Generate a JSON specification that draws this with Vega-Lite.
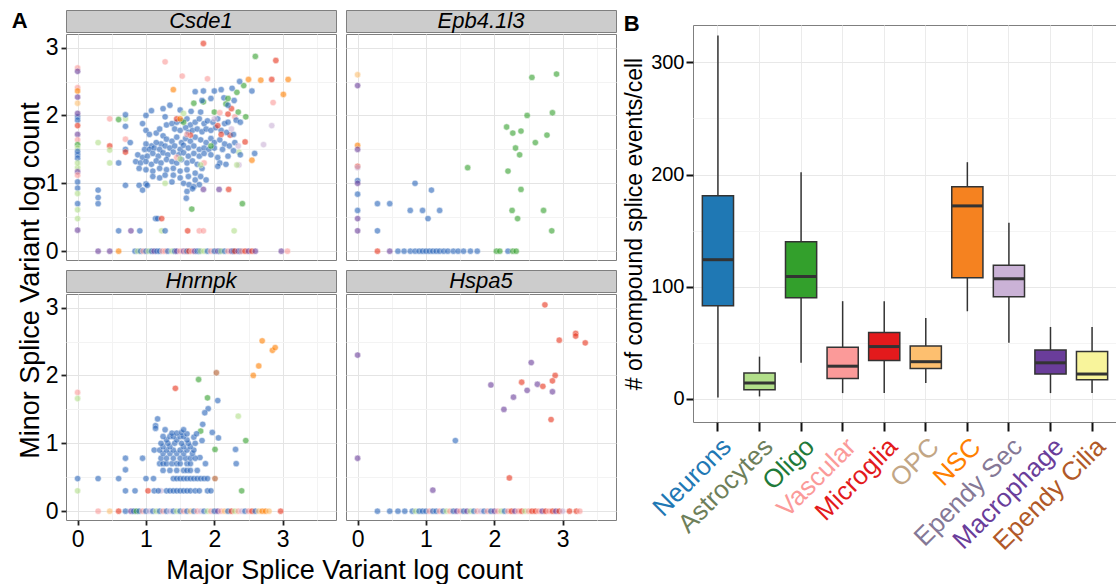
{
  "$schema": "https://vega.github.io/schema/vega-lite/v6.json",
  "padding": {"left": 11, "top": 9, "right": 0, "bottom": 0},
  "title": {"text": "A", "anchor": "start", "frame": "bounds", "orient": "top", "fontSize": 22, "fontWeight": "bold", "baseline": "top", "offset": -23, "dx": -5},
  "config": {
    "font": "Liberation Sans",
    "view": {"stroke": "#7f7f7f", "strokeWidth": 1},
    "axis": {"grid": true, "gridColor": "#ebebeb", "domain": false, "tickColor": "#222222", "tickWidth": 1.8, "labelFont": "Liberation Sans", "titleFont": "Liberation Sans", "titleFontWeight": "normal", "titleColor": "#000000"},
    "title": {"font": "Liberation Sans", "fontWeight": "normal", "color": "#000000"}
  },
  "datasets": {
    "csde1": [
      {"x":0,"y":2.70,"c":"V"},{"x":0,"y":2.65,"c":"X"},{"x":0,"y":2.41,"c":"V"},{"x":0,"y":2.36,"c":"S"},{"x":0,"y":2.27,"c":"X"},{"x":0,"y":2.18,"c":"P"},{"x":0,"y":1.98,"c":"N"},{"x":0,"y":1.93,"c":"N"},{"x":0,"y":1.85,"c":"M"},{"x":0,"y":1.72,"c":"X"},{"x":0,"y":1.64,"c":"V"},{"x":0,"y":1.57,"c":"O"},{"x":0,"y":1.52,"c":"A"},{"x":0,"y":1.42,"c":"N"},{"x":0,"y":1.37,"c":"N"},{"x":0,"y":1.23,"c":"A"},{"x":0,"y":1.17,"c":"X"},{"x":0,"y":1.12,"c":"V"},{"x":0,"y":1.02,"c":"N"},{"x":0,"y":0.93,"c":"N"},{"x":0,"y":0.85,"c":"A"},{"x":0,"y":0.70,"c":"N"},{"x":0,"y":0.61,"c":"A"},{"x":0,"y":0.48,"c":"A"},{"x":0,"y":0.31,"c":"X"},{"x":0,"y":1.30,"c":"A"},{"x":0,"y":1.47,"c":"N"},{"x":0,"y":2.03,"c":"X"},
      {"x":0.3,"y":0,"c":"X"},{"x":0.47,"y":0,"c":"X"},{"x":0.6,"y":0,"c":"S"},{"x":0.84,"y":0,"c":"N"},{"x":0.88,"y":0,"c":"A"},{"x":0.92,"y":0,"c":"N"},{"x":0.96,"y":0,"c":"V"},{"x":1.0,"y":0,"c":"N"},{"x":1.04,"y":0,"c":"A"},{"x":1.08,"y":0,"c":"N"},{"x":1.12,"y":0,"c":"X"},{"x":1.16,"y":0,"c":"N"},{"x":1.2,"y":0,"c":"N"},{"x":1.24,"y":0,"c":"V"},{"x":1.28,"y":0,"c":"V"},{"x":1.32,"y":0,"c":"N"},{"x":1.38,"y":0,"c":"A"},{"x":1.42,"y":0,"c":"N"},{"x":1.45,"y":0,"c":"X"},{"x":1.5,"y":0,"c":"V"},{"x":1.55,"y":0,"c":"X"},{"x":1.58,"y":0,"c":"V"},{"x":1.6,"y":0,"c":"N"},{"x":1.63,"y":0,"c":"M"},{"x":1.67,"y":0,"c":"V"},{"x":1.71,"y":0,"c":"X"},{"x":1.75,"y":0,"c":"N"},{"x":1.78,"y":0,"c":"N"},{"x":1.8,"y":0,"c":"A"},{"x":1.85,"y":0,"c":"A"},{"x":1.9,"y":0,"c":"N"},{"x":1.95,"y":0,"c":"V"},{"x":2.0,"y":0,"c":"N"},{"x":2.05,"y":0,"c":"X"},{"x":2.08,"y":0,"c":"N"},{"x":2.1,"y":0,"c":"A"},{"x":2.15,"y":0,"c":"N"},{"x":2.2,"y":0,"c":"V"},{"x":2.25,"y":0,"c":"X"},{"x":2.28,"y":0,"c":"N"},{"x":2.3,"y":0,"c":"M"},{"x":2.35,"y":0,"c":"X"},{"x":2.38,"y":0,"c":"N"},{"x":2.4,"y":0,"c":"V"},{"x":2.45,"y":0,"c":"M"},{"x":2.5,"y":0,"c":"X"},{"x":2.55,"y":0,"c":"M"},{"x":2.6,"y":0,"c":"X"},{"x":2.98,"y":0,"c":"X"},{"x":3.07,"y":0,"c":"V"},
      {"x":0.6,"y":0.3,"c":"N"},{"x":0.78,"y":0.3,"c":"X"},{"x":0.91,"y":0.3,"c":"N"},{"x":1.14,"y":0.48,"c":"N"},{"x":1.17,"y":0.48,"c":"N"},{"x":1.23,"y":0.48,"c":"M"},{"x":1.23,"y":0.3,"c":"A"},{"x":1.28,"y":0.3,"c":"N"},{"x":1.61,"y":0.3,"c":"M"},{"x":1.78,"y":0.3,"c":"V"},{"x":1.84,"y":0.3,"c":"V"},{"x":2.29,"y":0.3,"c":"A"},{"x":0.3,"y":0.9,"c":"N"},{"x":0.3,"y":0.79,"c":"N"},{"x":0.3,"y":0.7,"c":"N"},{"x":0.7,"y":0.97,"c":"N"},{"x":0.9,"y":0.97,"c":"N"},{"x":0.95,"y":0.9,"c":"N"},{"x":1.0,"y":0.99,"c":"N"},{"x":1.59,"y":0.78,"c":"N"},{"x":1.67,"y":0.62,"c":"O"},{"x":1.84,"y":0.91,"c":"X"},{"x":2.07,"y":0.91,"c":"X"},{"x":2.21,"y":0.91,"c":"M"},{"x":2.41,"y":0.7,"c":"O"},{"x":1.28,"y":1.0,"c":"A"},
      {"x":1.84,"y":3.06,"c":"M"},{"x":2.6,"y":2.87,"c":"O"},{"x":2.9,"y":2.81,"c":"M"},{"x":1.28,"y":2.79,"c":"V"},{"x":1.53,"y":2.58,"c":"V"},{"x":1.9,"y":2.54,"c":"V"},{"x":2.5,"y":2.53,"c":"S"},{"x":2.68,"y":2.52,"c":"S"},{"x":2.84,"y":2.53,"c":"M"},{"x":3.08,"y":2.53,"c":"S"},{"x":3.01,"y":2.31,"c":"S"},{"x":2.86,"y":2.19,"c":"V"},{"x":2.84,"y":1.85,"c":"E"},{"x":2.72,"y":1.57,"c":"E"},{"x":2.55,"y":1.34,"c":"S"},{"x":2.59,"y":1.44,"c":"N"},{"x":1.4,"y":2.38,"c":"S"},{"x":0.47,"y":1.95,"c":"V"},{"x":0.6,"y":1.94,"c":"O"},{"x":0.7,"y":1.95,"c":"A"},{"x":0.7,"y":2.01,"c":"N"},{"x":0.7,"y":1.84,"c":"N"},{"x":0.3,"y":1.6,"c":"A"},{"x":0.47,"y":1.55,"c":"M"},{"x":0.47,"y":1.49,"c":"A"},{"x":0.47,"y":1.3,"c":"A"},{"x":0.6,"y":1.3,"c":"N"},{"x":0.7,"y":1.65,"c":"V"},{"x":0.7,"y":1.5,"c":"N"},{"x":0.7,"y":1.46,"c":"M"},{"x":0.77,"y":1.6,"c":"N"},{"x":2.45,"y":1.61,"c":"M"},{"x":2.36,"y":1.46,"c":"A"},{"x":2.36,"y":1.27,"c":"E"},{"x":2.33,"y":1.27,"c":"A"},{"x":2.23,"y":1.71,"c":"M"},{"x":2.43,"y":2.44,"c":"O"},{"x":2.33,"y":2.34,"c":"O"},{"x":2.17,"y":2.17,"c":"O"},{"x":2.25,"y":2.1,"c":"M"},{"x":2.3,"y":1.98,"c":"V"},{"x":2.46,"y":1.98,"c":"O"},{"x":1.84,"y":2.2,"c":"O"},{"x":1.7,"y":2.18,"c":"O"},{"x":2.37,"y":2.5,"c":"N"},{"x":2.55,"y":2.36,"c":"N"},{"x":2.29,"y":2.22,"c":"N"},
      {"x":1.72,"y":2.35,"c":"N"},{"x":1.84,"y":2.36,"c":"N"},{"x":2.0,"y":2.36,"c":"N"},{"x":2.1,"y":2.38,"c":"N"},{"x":2.26,"y":2.4,"c":"N"},{"x":1.82,"y":2.22,"c":"N"},{"x":1.95,"y":2.25,"c":"N"},{"x":2.14,"y":2.26,"c":"N"},{"x":1.25,"y":2.1,"c":"N"},{"x":1.35,"y":2.15,"c":"N"},{"x":1.5,"y":2.08,"c":"N"},{"x":1.66,"y":2.06,"c":"N"},{"x":1.8,"y":2.05,"c":"N"},{"x":2.2,"y":2.15,"c":"N"},{"x":1.0,"y":2.0,"c":"N"},{"x":1.08,"y":2.07,"c":"N"},
      {"x":1.28,"y":1.98,"c":"N"},{"x":1.3,"y":1.86,"c":"N"},{"x":1.38,"y":1.88,"c":"N"},{"x":1.45,"y":1.9,"c":"N"},{"x":1.52,"y":1.92,"c":"N"},{"x":1.6,"y":1.95,"c":"N"},{"x":1.65,"y":1.86,"c":"N"},{"x":1.72,"y":1.9,"c":"N"},{"x":1.78,"y":1.95,"c":"N"},{"x":1.85,"y":1.88,"c":"N"},{"x":1.9,"y":1.92,"c":"N"},{"x":1.98,"y":1.9,"c":"N"},{"x":2.05,"y":1.95,"c":"N"},{"x":2.15,"y":1.88,"c":"N"},{"x":2.2,"y":1.9,"c":"N"},{"x":2.32,"y":1.93,"c":"N"},{"x":2.38,"y":1.9,"c":"N"},{"x":1.42,"y":1.8,"c":"N"},{"x":1.5,"y":1.78,"c":"N"},{"x":1.58,"y":1.82,"c":"N"},{"x":1.62,"y":1.75,"c":"N"},{"x":1.68,"y":1.78,"c":"N"},{"x":1.75,"y":1.8,"c":"N"},{"x":1.82,"y":1.76,"c":"N"},{"x":1.88,"y":1.8,"c":"N"},{"x":1.95,"y":1.78,"c":"N"},{"x":2.02,"y":1.82,"c":"N"},{"x":2.1,"y":1.78,"c":"N"},{"x":2.18,"y":1.75,"c":"N"},{"x":2.28,"y":1.72,"c":"N"},{"x":1.0,"y":1.78,"c":"N"},{"x":1.05,"y":1.72,"c":"N"},{"x":1.15,"y":1.74,"c":"N"},{"x":1.2,"y":1.8,"c":"N"},{"x":0.95,"y":1.88,"c":"N"},{"x":1.25,"y":1.7,"c":"N"},
      {"x":1.3,"y":1.65,"c":"N"},{"x":1.38,"y":1.62,"c":"N"},{"x":1.45,"y":1.68,"c":"N"},{"x":1.52,"y":1.6,"c":"N"},{"x":1.58,"y":1.66,"c":"N"},{"x":1.65,"y":1.62,"c":"N"},{"x":1.72,"y":1.68,"c":"N"},{"x":1.8,"y":1.64,"c":"N"},{"x":1.88,"y":1.6,"c":"N"},{"x":1.95,"y":1.66,"c":"N"},{"x":2.0,"y":1.6,"c":"N"},{"x":2.08,"y":1.64,"c":"N"},{"x":2.15,"y":1.58,"c":"N"},{"x":2.22,"y":1.55,"c":"N"},{"x":2.3,"y":1.6,"c":"N"},{"x":1.22,"y":1.58,"c":"N"},{"x":1.15,"y":1.6,"c":"N"},{"x":1.08,"y":1.55,"c":"N"},{"x":1.0,"y":1.58,"c":"N"},{"x":0.98,"y":1.5,"c":"N"},{"x":1.05,"y":1.5,"c":"N"},{"x":1.12,"y":1.52,"c":"N"},{"x":1.2,"y":1.5,"c":"N"},{"x":1.28,"y":1.55,"c":"N"},{"x":1.35,"y":1.52,"c":"N"},{"x":1.42,"y":1.55,"c":"N"},{"x":1.5,"y":1.5,"c":"N"},{"x":1.55,"y":1.56,"c":"N"},{"x":1.62,"y":1.52,"c":"N"},{"x":1.7,"y":1.55,"c":"N"},{"x":1.78,"y":1.5,"c":"N"},{"x":1.85,"y":1.52,"c":"N"},{"x":1.92,"y":1.5,"c":"N"},{"x":2.0,"y":1.52,"c":"N"},{"x":2.12,"y":1.5,"c":"N"},{"x":2.28,"y":1.48,"c":"N"},{"x":2.38,"y":1.42,"c":"N"},
      {"x":0.88,"y":1.42,"c":"N"},{"x":0.95,"y":1.38,"c":"N"},{"x":1.02,"y":1.4,"c":"N"},{"x":1.1,"y":1.44,"c":"N"},{"x":1.18,"y":1.4,"c":"N"},{"x":1.25,"y":1.45,"c":"N"},{"x":1.32,"y":1.42,"c":"N"},{"x":1.4,"y":1.46,"c":"N"},{"x":1.48,"y":1.42,"c":"N"},{"x":1.55,"y":1.45,"c":"N"},{"x":1.62,"y":1.4,"c":"N"},{"x":1.7,"y":1.44,"c":"N"},{"x":1.78,"y":1.4,"c":"N"},{"x":1.85,"y":1.44,"c":"N"},{"x":1.95,"y":1.42,"c":"N"},{"x":2.05,"y":1.38,"c":"N"},{"x":2.2,"y":1.4,"c":"N"},{"x":0.85,"y":1.32,"c":"N"},{"x":0.92,"y":1.3,"c":"N"},{"x":1.0,"y":1.32,"c":"N"},{"x":1.08,"y":1.28,"c":"N"},{"x":1.15,"y":1.33,"c":"N"},{"x":1.22,"y":1.3,"c":"N"},{"x":1.3,"y":1.35,"c":"N"},{"x":1.38,"y":1.32,"c":"N"},{"x":1.45,"y":1.3,"c":"N"},{"x":1.52,"y":1.35,"c":"N"},{"x":1.6,"y":1.3,"c":"N"},{"x":1.68,"y":1.33,"c":"N"},{"x":1.75,"y":1.28,"c":"N"},{"x":2.08,"y":1.3,"c":"N"},{"x":2.17,"y":1.28,"c":"N"},{"x":0.9,"y":1.22,"c":"N"},{"x":1.0,"y":1.2,"c":"N"},{"x":1.1,"y":1.18,"c":"N"},{"x":1.2,"y":1.22,"c":"N"},{"x":1.3,"y":1.2,"c":"N"},{"x":1.4,"y":1.22,"c":"N"},{"x":1.5,"y":1.18,"c":"N"},{"x":1.6,"y":1.2,"c":"N"},{"x":1.72,"y":1.15,"c":"N"},{"x":1.82,"y":1.22,"c":"N"},{"x":2.05,"y":1.25,"c":"N"},
      {"x":1.1,"y":1.1,"c":"N"},{"x":1.2,"y":1.08,"c":"N"},{"x":1.28,"y":1.12,"c":"N"},{"x":1.4,"y":1.12,"c":"N"},{"x":1.5,"y":1.08,"c":"N"},{"x":1.62,"y":1.1,"c":"N"},{"x":1.72,"y":1.05,"c":"N"},{"x":1.8,"y":1.1,"c":"N"},{"x":1.88,"y":1.05,"c":"N"},{"x":1.38,"y":1.02,"c":"N"},{"x":1.55,"y":1.0,"c":"N"},{"x":1.63,"y":0.98,"c":"N"},{"x":1.78,"y":0.98,"c":"N"},{"x":1.7,"y":0.95,"c":"N"},{"x":1.02,"y":0.97,"c":"N"},{"x":1.6,"y":0.88,"c":"N"},{"x":1.68,"y":0.92,"c":"N"},
      {"x":2.2,"y":2.25,"c":"O"},{"x":2.35,"y":2.05,"c":"O"},{"x":2.0,"y":2.05,"c":"O"},{"x":1.95,"y":1.55,"c":"O"},{"x":1.55,"y":1.9,"c":"O"},{"x":1.45,"y":1.95,"c":"M"},{"x":2.1,"y":1.72,"c":"M"},{"x":2.2,"y":2.02,"c":"M"},{"x":2.05,"y":1.85,"c":"M"},{"x":1.65,"y":1.71,"c":"M"},{"x":2.08,"y":2.04,"c":"V"},{"x":1.6,"y":1.72,"c":"V"},{"x":1.85,"y":1.3,"c":"V"},{"x":1.45,"y":1.38,"c":"V"},{"x":2.0,"y":1.95,"c":"E"},{"x":2.35,"y":1.55,"c":"E"},{"x":2.25,"y":1.8,"c":"E"},{"x":1.8,"y":1.27,"c":"A"},{"x":1.55,"y":2.03,"c":"A"},{"x":1.5,"y":1.36,"c":"A"},{"x":1.5,"y":1.95,"c":"S"}
    ],
    "epb": [
      {"x":0,"y":2.6,"c":"P"},{"x":0,"y":2.44,"c":"X"},{"x":0,"y":1.56,"c":"S"},{"x":0,"y":1.5,"c":"X"},{"x":0,"y":1.25,"c":"M"},{"x":0,"y":1.23,"c":"E"},{"x":0,"y":1.04,"c":"N"},{"x":0,"y":1.0,"c":"X"},{"x":0,"y":0.84,"c":"N"},{"x":0,"y":0.6,"c":"N"},{"x":0,"y":0.48,"c":"X"},{"x":0,"y":0.3,"c":"X"},
      {"x":0.29,"y":0.7,"c":"N"},{"x":0.47,"y":0.7,"c":"N"},{"x":0.29,"y":0.3,"c":"N"},{"x":0.84,"y":1.0,"c":"N"},{"x":1.08,"y":0.9,"c":"N"},{"x":0.77,"y":0.6,"c":"N"},{"x":0.95,"y":0.6,"c":"N"},{"x":1.2,"y":0.6,"c":"N"},{"x":1.03,"y":0.48,"c":"N"},
      {"x":1.61,"y":1.23,"c":"O"},{"x":2.55,"y":2.56,"c":"O"},{"x":2.91,"y":2.61,"c":"O"},{"x":2.48,"y":2.0,"c":"O"},{"x":2.85,"y":2.04,"c":"O"},{"x":2.18,"y":1.83,"c":"O"},{"x":2.27,"y":1.74,"c":"O"},{"x":2.39,"y":1.77,"c":"O"},{"x":2.6,"y":1.6,"c":"O"},{"x":2.77,"y":1.71,"c":"O"},{"x":2.31,"y":1.52,"c":"O"},{"x":2.37,"y":1.42,"c":"O"},{"x":2.2,"y":1.18,"c":"O"},{"x":2.39,"y":0.91,"c":"O"},{"x":2.26,"y":0.6,"c":"O"},{"x":2.72,"y":0.6,"c":"O"},{"x":2.34,"y":0.48,"c":"O"},{"x":2.84,"y":0.3,"c":"O"},
      {"x":0.29,"y":0,"c":"M"},{"x":0.47,"y":0,"c":"X"},{"x":0.59,"y":0,"c":"N"},{"x":0.68,"y":0,"c":"N"},{"x":0.77,"y":0,"c":"N"},{"x":0.84,"y":0,"c":"N"},{"x":0.9,"y":0,"c":"N"},{"x":0.95,"y":0,"c":"N"},{"x":1.0,"y":0,"c":"N"},{"x":1.05,"y":0,"c":"N"},{"x":1.1,"y":0,"c":"N"},{"x":1.15,"y":0,"c":"N"},{"x":1.2,"y":0,"c":"N"},{"x":1.26,"y":0,"c":"N"},{"x":1.32,"y":0,"c":"N"},{"x":1.4,"y":0,"c":"N"},{"x":1.47,"y":0,"c":"N"},{"x":1.55,"y":0,"c":"N"},{"x":1.65,"y":0,"c":"N"},{"x":1.75,"y":0,"c":"N"},{"x":2.03,"y":0,"c":"O"},{"x":2.08,"y":0,"c":"O"},{"x":2.2,"y":0,"c":"N"},{"x":2.27,"y":0,"c":"O"},{"x":2.32,"y":0,"c":"O"}
    ],
    "hnrnpk": [
      {"x":0,"y":1.75,"c":"V"},{"x":0,"y":1.66,"c":"A"},{"x":0,"y":0.48,"c":"N"},{"x":0,"y":0.3,"c":"A"},
      {"x":2.7,"y":2.51,"c":"S"},{"x":2.85,"y":2.37,"c":"S"},{"x":2.89,"y":2.41,"c":"S"},{"x":2.65,"y":2.14,"c":"S"},{"x":2.57,"y":2.0,"c":"S"},{"x":2.03,"y":2.04,"c":"C"},{"x":1.77,"y":1.94,"c":"O"},{"x":1.9,"y":1.67,"c":"O"},{"x":1.8,"y":1.18,"c":"O"},{"x":2.01,"y":0.91,"c":"O"},{"x":2.46,"y":1.04,"c":"O"},{"x":2.4,"y":0.3,"c":"O"},{"x":1.43,"y":1.81,"c":"M"},{"x":2.35,"y":1.4,"c":"A"},{"x":2.05,"y":1.63,"c":"N"},{"x":1.91,"y":1.51,"c":"N"},{"x":1.86,"y":1.45,"c":"N"},{"x":1.83,"y":1.28,"c":"N"},{"x":1.7,"y":1.09,"c":"N"},{"x":1.74,"y":1.14,"c":"N"},{"x":1.97,"y":1.16,"c":"N"},{"x":2.06,"y":1.08,"c":"N"},{"x":2.31,"y":0.91,"c":"N"},{"x":2.32,"y":0.7,"c":"N"},{"x":1.82,"y":1.04,"c":"N"},{"x":1.79,"y":0.79,"c":"N"},{"x":1.87,"y":0.7,"c":"N"},{"x":1.17,"y":1.36,"c":"N"},{"x":1.14,"y":1.26,"c":"N"},{"x":1.14,"y":1.22,"c":"N"},{"x":0.7,"y":0.78,"c":"N"},{"x":0.7,"y":0.61,"c":"N"},{"x":0.95,"y":0.78,"c":"N"},{"x":0.3,"y":0.48,"c":"N"},{"x":0.6,"y":0.48,"c":"N"},{"x":1.0,"y":0.48,"c":"N"},{"x":1.11,"y":0.48,"c":"N"},{"x":0.7,"y":0.3,"c":"N"},{"x":0.84,"y":0.3,"c":"N"},{"x":2.01,"y":0.48,"c":"C"},{"x":1.03,"y":0.3,"c":"M"},{"x":1.22,"y":0.3,"c":"E"},
      {"x":1.4,"y":0.48,"c":"N"},{"x":1.45,"y":0.48,"c":"N"},{"x":1.5,"y":0.48,"c":"N"},{"x":1.55,"y":0.48,"c":"N"},{"x":1.6,"y":0.48,"c":"N"},{"x":1.65,"y":0.48,"c":"N"},{"x":1.7,"y":0.48,"c":"N"},{"x":1.75,"y":0.48,"c":"N"},{"x":1.8,"y":0.48,"c":"N"},{"x":1.85,"y":0.48,"c":"N"},{"x":1.9,"y":0.48,"c":"N"},
      {"x":1.12,"y":0.3,"c":"N"},{"x":1.18,"y":0.3,"c":"N"},{"x":1.3,"y":0.3,"c":"N"},{"x":1.35,"y":0.3,"c":"N"},{"x":1.4,"y":0.3,"c":"N"},{"x":1.45,"y":0.3,"c":"N"},{"x":1.5,"y":0.3,"c":"N"},{"x":1.55,"y":0.3,"c":"N"},{"x":1.6,"y":0.3,"c":"N"},{"x":1.65,"y":0.3,"c":"N"},{"x":1.72,"y":0.3,"c":"N"},{"x":1.78,"y":0.3,"c":"N"},{"x":1.9,"y":0.3,"c":"N"},{"x":1.95,"y":0.3,"c":"N"},
      {"x":1.25,"y":0.6,"c":"N"},{"x":1.35,"y":0.6,"c":"N"},{"x":1.45,"y":0.6,"c":"N"},{"x":1.55,"y":0.6,"c":"N"},{"x":1.6,"y":0.6,"c":"N"},{"x":1.65,"y":0.6,"c":"N"},{"x":1.75,"y":0.6,"c":"N"},
      {"x":1.2,"y":0.7,"c":"N"},{"x":1.25,"y":0.7,"c":"N"},{"x":1.3,"y":0.7,"c":"N"},{"x":1.38,"y":0.7,"c":"N"},{"x":1.45,"y":0.7,"c":"N"},{"x":1.5,"y":0.7,"c":"N"},{"x":1.6,"y":0.7,"c":"N"},{"x":1.65,"y":0.7,"c":"N"},
      {"x":1.22,"y":0.78,"c":"N"},{"x":1.3,"y":0.78,"c":"N"},{"x":1.4,"y":0.78,"c":"N"},{"x":1.5,"y":0.78,"c":"N"},{"x":1.58,"y":0.78,"c":"N"},{"x":1.65,"y":0.78,"c":"N"},{"x":1.72,"y":0.78,"c":"N"},
      {"x":1.25,"y":0.85,"c":"N"},{"x":1.35,"y":0.85,"c":"N"},{"x":1.45,"y":0.85,"c":"N"},{"x":1.55,"y":0.85,"c":"N"},{"x":1.68,"y":0.85,"c":"N"},
      {"x":1.12,"y":0.9,"c":"N"},{"x":1.2,"y":0.9,"c":"N"},{"x":1.3,"y":0.9,"c":"N"},{"x":1.4,"y":0.9,"c":"N"},{"x":1.5,"y":0.9,"c":"N"},{"x":1.6,"y":0.9,"c":"N"},{"x":1.7,"y":0.9,"c":"N"},
      {"x":1.25,"y":0.95,"c":"N"},{"x":1.35,"y":0.95,"c":"N"},{"x":1.55,"y":0.95,"c":"N"},{"x":1.65,"y":0.95,"c":"N"},
      {"x":1.22,"y":1.0,"c":"N"},{"x":1.32,"y":1.0,"c":"N"},{"x":1.42,"y":1.0,"c":"N"},{"x":1.52,"y":1.0,"c":"N"},{"x":1.62,"y":1.0,"c":"N"},{"x":1.72,"y":1.0,"c":"N"},
      {"x":1.3,"y":1.05,"c":"N"},{"x":1.45,"y":1.05,"c":"N"},{"x":1.6,"y":1.05,"c":"N"},
      {"x":1.25,"y":1.1,"c":"N"},{"x":1.35,"y":1.1,"c":"N"},{"x":1.4,"y":1.1,"c":"N"},{"x":1.5,"y":1.1,"c":"N"},{"x":1.55,"y":1.1,"c":"N"},
      {"x":1.38,"y":1.15,"c":"N"},{"x":1.45,"y":1.15,"c":"N"},{"x":1.52,"y":1.16,"c":"N"},{"x":1.6,"y":1.14,"c":"N"},{"x":1.28,"y":1.2,"c":"N"},{"x":1.55,"y":1.2,"c":"N"},
      {"x":0.3,"y":0,"c":"V"},{"x":0.47,"y":0,"c":"P"},{"x":0.6,"y":0,"c":"M"},{"x":0.7,"y":0,"c":"N"},{"x":0.78,"y":0,"c":"X"},{"x":0.82,"y":0,"c":"N"},{"x":0.86,"y":0,"c":"O"},{"x":0.9,"y":0,"c":"N"},{"x":0.95,"y":0,"c":"V"},{"x":1.0,"y":0,"c":"N"},{"x":1.05,"y":0,"c":"E"},{"x":1.1,"y":0,"c":"N"},{"x":1.15,"y":0,"c":"A"},{"x":1.2,"y":0,"c":"N"},{"x":1.25,"y":0,"c":"V"},{"x":1.3,"y":0,"c":"N"},{"x":1.35,"y":0,"c":"E"},{"x":1.4,"y":0,"c":"N"},{"x":1.45,"y":0,"c":"A"},{"x":1.5,"y":0,"c":"N"},{"x":1.55,"y":0,"c":"V"},{"x":1.6,"y":0,"c":"N"},{"x":1.65,"y":0,"c":"P"},{"x":1.7,"y":0,"c":"N"},{"x":1.75,"y":0,"c":"V"},{"x":1.8,"y":0,"c":"E"},{"x":1.85,"y":0,"c":"N"},{"x":1.9,"y":0,"c":"A"},{"x":1.95,"y":0,"c":"V"},{"x":2.0,"y":0,"c":"N"},{"x":2.05,"y":0,"c":"X"},{"x":2.1,"y":0,"c":"V"},{"x":2.15,"y":0,"c":"P"},{"x":2.2,"y":0,"c":"N"},{"x":2.25,"y":0,"c":"M"},{"x":2.3,"y":0,"c":"A"},{"x":2.35,"y":0,"c":"V"},{"x":2.4,"y":0,"c":"E"},{"x":2.45,"y":0,"c":"N"},{"x":2.5,"y":0,"c":"V"},{"x":2.55,"y":0,"c":"M"},{"x":2.6,"y":0,"c":"N"},{"x":2.65,"y":0,"c":"P"},{"x":2.7,"y":0,"c":"S"},{"x":2.75,"y":0,"c":"S"},{"x":2.8,"y":0,"c":"P"},{"x":2.97,"y":0,"c":"M"}
    ],
    "hspa5": [
      {"x":0,"y":2.3,"c":"X"},{"x":0,"y":0.78,"c":"X"},{"x":1.1,"y":0.31,"c":"X"},{"x":1.95,"y":1.86,"c":"X"},{"x":2.14,"y":1.5,"c":"X"},{"x":2.28,"y":1.68,"c":"X"},{"x":2.48,"y":1.78,"c":"X"},{"x":2.54,"y":2.19,"c":"X"},{"x":2.63,"y":1.87,"c":"X"},{"x":2.85,"y":1.76,"c":"X"},{"x":1.43,"y":1.04,"c":"N"},
      {"x":2.74,"y":3.04,"c":"M"},{"x":3.19,"y":2.62,"c":"M"},{"x":3.19,"y":2.58,"c":"M"},{"x":2.95,"y":2.52,"c":"M"},{"x":3.33,"y":2.48,"c":"M"},{"x":2.89,"y":2.0,"c":"M"},{"x":2.85,"y":1.92,"c":"M"},{"x":2.4,"y":1.9,"c":"M"},{"x":2.71,"y":1.84,"c":"M"},{"x":2.83,"y":1.35,"c":"M"},{"x":2.22,"y":0.49,"c":"M"},
      {"x":0.29,"y":0,"c":"N"},{"x":0.47,"y":0,"c":"N"},{"x":0.59,"y":0,"c":"N"},{"x":0.69,"y":0,"c":"N"},{"x":0.8,"y":0,"c":"N"},{"x":0.85,"y":0,"c":"A"},{"x":0.9,"y":0,"c":"N"},{"x":0.95,"y":0,"c":"N"},{"x":1.0,"y":0,"c":"N"},{"x":1.05,"y":0,"c":"V"},{"x":1.1,"y":0,"c":"N"},{"x":1.15,"y":0,"c":"N"},{"x":1.2,"y":0,"c":"V"},{"x":1.25,"y":0,"c":"N"},{"x":1.3,"y":0,"c":"A"},{"x":1.35,"y":0,"c":"V"},{"x":1.4,"y":0,"c":"N"},{"x":1.45,"y":0,"c":"X"},{"x":1.5,"y":0,"c":"V"},{"x":1.55,"y":0,"c":"N"},{"x":1.6,"y":0,"c":"X"},{"x":1.65,"y":0,"c":"A"},{"x":1.7,"y":0,"c":"N"},{"x":1.75,"y":0,"c":"V"},{"x":1.8,"y":0,"c":"E"},{"x":1.85,"y":0,"c":"N"},{"x":1.9,"y":0,"c":"V"},{"x":1.95,"y":0,"c":"N"},{"x":2.0,"y":0,"c":"X"},{"x":2.05,"y":0,"c":"V"},{"x":2.1,"y":0,"c":"A"},{"x":2.15,"y":0,"c":"N"},{"x":2.2,"y":0,"c":"V"},{"x":2.25,"y":0,"c":"M"},{"x":2.3,"y":0,"c":"X"},{"x":2.35,"y":0,"c":"V"},{"x":2.4,"y":0,"c":"M"},{"x":2.45,"y":0,"c":"A"},{"x":2.5,"y":0,"c":"V"},{"x":2.55,"y":0,"c":"M"},{"x":2.6,"y":0,"c":"M"},{"x":2.65,"y":0,"c":"V"},{"x":2.7,"y":0,"c":"X"},{"x":2.75,"y":0,"c":"M"},{"x":2.8,"y":0,"c":"V"},{"x":2.85,"y":0,"c":"M"},{"x":2.9,"y":0,"c":"X"},{"x":2.95,"y":0,"c":"M"},{"x":3.0,"y":0,"c":"E"},{"x":3.1,"y":0,"c":"M"},{"x":3.2,"y":0,"c":"M"},{"x":3.25,"y":0,"c":"V"}
    ],
    "boxes": [
      {"type":"Neurons","lo":1,"q1":83,"med":124,"q3":181,"hi":324},
      {"type":"Astrocytes","lo":2,"q1":8,"med":14,"q3":23,"hi":37.5},
      {"type":"Oligo","lo":32,"q1":90,"med":109,"q3":140,"hi":202},
      {"type":"Vascular","lo":5,"q1":18,"med":29,"q3":46,"hi":87},
      {"type":"Microglia","lo":5,"q1":34,"med":46.5,"q3":59,"hi":87},
      {"type":"OPC","lo":14,"q1":27,"med":33,"q3":47,"hi":72},
      {"type":"NSC","lo":78,"q1":108,"med":172,"q3":189,"hi":211},
      {"type":"Ependy Sec","lo":50,"q1":91,"med":107,"q3":119,"hi":157},
      {"type":"Macrophage","lo":5,"q1":22,"med":32,"q3":43.5,"hi":64},
      {"type":"Ependy Cilia","lo":5,"q1":17,"med":22,"q3":42,"hi":64}
    ]
  },
  "resolve": {"scale": {"x": "independent", "y": "independent", "color": "independent"}},
  "spacing": 6,
  "hconcat": [
    {
      "title": {"text": "Major Splice Variant log count", "orient": "bottom", "anchor": "middle", "frame": "bounds", "fontSize": 27, "offset": 6, "dx": 28},
      "vconcat": [
        {
          "title": {"text": "Minor Splice Variant log count", "orient": "left", "anchor": "middle", "frame": "bounds", "fontSize": 27, "offset": 0},
          "spacing": 5,
          "vconcat": [
            {
              "spacing": 8,
              "hconcat": [
                {
                  "spacing": 0,
                  "vconcat": [
                    {"width": 270, "height": 22, "view": {"fill": "#cccccc", "stroke": "#7f7f7f"}, "data": {"values": [{"gene": "Csde1"}]}, "mark": {"type": "text", "fontSize": 22, "fontStyle": "italic", "baseline": "middle", "align": "center"}, "encoding": {"text": {"field": "gene"}}},
                    {"width": 270, "height": 226, "data": {"name": "csde1"}, "mark": {"type": "circle", "size": 40, "opacity": 0.6, "stroke": "#ffffff", "strokeWidth": 0.5},
                     "encoding": {
                       "x": {"field": "x", "type": "quantitative", "scale": {"domain": [-0.17, 3.78], "nice": false, "zero": false}, "axis": {"title": null, "values": [0, 0.5, 1, 1.5, 2, 2.5, 3, 3.5], "labels": false, "ticks": false, "gridColor": {"condition": {"test": "datum.value % 1 !== 0", "value": "#f3f3f3"}, "value": "#e4e4e4"}}},
                       "y": {"field": "y", "type": "quantitative", "scale": {"domain": [-0.13, 3.2], "nice": false, "zero": false}, "axis": {"title": null, "values": [0, 0.5, 1, 1.5, 2, 2.5, 3], "labelExpr": "datum.value % 1 === 0 ? format(datum.value, 'd') : ''", "labelFontSize": 23, "labelColor": "#000000", "labelPadding": 3, "tickSize": 5, "tickOpacity": {"condition": {"test": "datum.value % 1 !== 0", "value": 0}, "value": 1}, "gridColor": {"condition": {"test": "datum.value % 1 !== 0", "value": "#f3f3f3"}, "value": "#e4e4e4"}}},
                       "color": {"field": "c", "type": "nominal", "scale": {"domain": ["N","A","O","V","M","P","S","E","X","C"], "range": ["#2a66ba","#b2df8a","#33a02c","#fb9a99","#e8341c","#fdbf6f","#ff7f00","#cab2d6","#6a3d9a","#b15928"]}, "legend": null}
                     }}
                  ]
                },
                {
                  "spacing": 0,
                  "vconcat": [
                    {"width": 270, "height": 22, "view": {"fill": "#cccccc", "stroke": "#7f7f7f"}, "data": {"values": [{"gene": "Epb4.1l3"}]}, "mark": {"type": "text", "fontSize": 22, "fontStyle": "italic", "baseline": "middle", "align": "center"}, "encoding": {"text": {"field": "gene"}}},
                    {"width": 270, "height": 226, "data": {"name": "epb"}, "mark": {"type": "circle", "size": 40, "opacity": 0.6, "stroke": "#ffffff", "strokeWidth": 0.5},
                     "encoding": {
                       "x": {"field": "x", "type": "quantitative", "scale": {"domain": [-0.17, 3.78], "nice": false, "zero": false}, "axis": {"title": null, "values": [0, 0.5, 1, 1.5, 2, 2.5, 3, 3.5], "labels": false, "ticks": false, "gridColor": {"condition": {"test": "datum.value % 1 !== 0", "value": "#f3f3f3"}, "value": "#e4e4e4"}}},
                       "y": {"field": "y", "type": "quantitative", "scale": {"domain": [-0.13, 3.2], "nice": false, "zero": false}, "axis": {"title": null, "values": [0, 0.5, 1, 1.5, 2, 2.5, 3], "labels": false, "ticks": false, "gridColor": {"condition": {"test": "datum.value % 1 !== 0", "value": "#f3f3f3"}, "value": "#e4e4e4"}}},
                       "color": {"field": "c", "type": "nominal", "scale": {"domain": ["N","A","O","V","M","P","S","E","X","C"], "range": ["#2a66ba","#b2df8a","#33a02c","#fb9a99","#e8341c","#fdbf6f","#ff7f00","#cab2d6","#6a3d9a","#b15928"]}, "legend": null}
                     }}
                  ]
                }
              ]
            },
            {
              "spacing": 8,
              "hconcat": [
                {
                  "spacing": 0,
                  "vconcat": [
                    {"width": 270, "height": 22, "view": {"fill": "#cccccc", "stroke": "#7f7f7f"}, "data": {"values": [{"gene": "Hnrnpk"}]}, "mark": {"type": "text", "fontSize": 22, "fontStyle": "italic", "baseline": "middle", "align": "center"}, "encoding": {"text": {"field": "gene"}}},
                    {"width": 270, "height": 226, "data": {"name": "hnrnpk"}, "mark": {"type": "circle", "size": 40, "opacity": 0.6, "stroke": "#ffffff", "strokeWidth": 0.5},
                     "encoding": {
                       "x": {"field": "x", "type": "quantitative", "scale": {"domain": [-0.17, 3.78], "nice": false, "zero": false}, "axis": {"title": null, "values": [0, 0.5, 1, 1.5, 2, 2.5, 3, 3.5], "labelExpr": "datum.value % 1 === 0 ? format(datum.value, 'd') : ''", "labelFontSize": 23, "labelColor": "#000000", "labelPadding": 3, "tickSize": 5, "tickOpacity": {"condition": {"test": "datum.value % 1 !== 0", "value": 0}, "value": 1}, "gridColor": {"condition": {"test": "datum.value % 1 !== 0", "value": "#f3f3f3"}, "value": "#e4e4e4"}}},
                       "y": {"field": "y", "type": "quantitative", "scale": {"domain": [-0.13, 3.2], "nice": false, "zero": false}, "axis": {"title": null, "values": [0, 0.5, 1, 1.5, 2, 2.5, 3], "labelExpr": "datum.value % 1 === 0 ? format(datum.value, 'd') : ''", "labelFontSize": 23, "labelColor": "#000000", "labelPadding": 3, "tickSize": 5, "tickOpacity": {"condition": {"test": "datum.value % 1 !== 0", "value": 0}, "value": 1}, "gridColor": {"condition": {"test": "datum.value % 1 !== 0", "value": "#f3f3f3"}, "value": "#e4e4e4"}}},
                       "color": {"field": "c", "type": "nominal", "scale": {"domain": ["N","A","O","V","M","P","S","E","X","C"], "range": ["#2a66ba","#b2df8a","#33a02c","#fb9a99","#e8341c","#fdbf6f","#ff7f00","#cab2d6","#6a3d9a","#b15928"]}, "legend": null}
                     }}
                  ]
                },
                {
                  "spacing": 0,
                  "vconcat": [
                    {"width": 270, "height": 22, "view": {"fill": "#cccccc", "stroke": "#7f7f7f"}, "data": {"values": [{"gene": "Hspa5"}]}, "mark": {"type": "text", "fontSize": 22, "fontStyle": "italic", "baseline": "middle", "align": "center"}, "encoding": {"text": {"field": "gene"}}},
                    {"width": 270, "height": 226, "data": {"name": "hspa5"}, "mark": {"type": "circle", "size": 40, "opacity": 0.6, "stroke": "#ffffff", "strokeWidth": 0.5},
                     "encoding": {
                       "x": {"field": "x", "type": "quantitative", "scale": {"domain": [-0.17, 3.78], "nice": false, "zero": false}, "axis": {"title": null, "values": [0, 0.5, 1, 1.5, 2, 2.5, 3, 3.5], "labelExpr": "datum.value % 1 === 0 ? format(datum.value, 'd') : ''", "labelFontSize": 23, "labelColor": "#000000", "labelPadding": 3, "tickSize": 5, "tickOpacity": {"condition": {"test": "datum.value % 1 !== 0", "value": 0}, "value": 1}, "gridColor": {"condition": {"test": "datum.value % 1 !== 0", "value": "#f3f3f3"}, "value": "#e4e4e4"}}},
                       "y": {"field": "y", "type": "quantitative", "scale": {"domain": [-0.13, 3.2], "nice": false, "zero": false}, "axis": {"title": null, "values": [0, 0.5, 1, 1.5, 2, 2.5, 3], "labels": false, "ticks": false, "gridColor": {"condition": {"test": "datum.value % 1 !== 0", "value": "#f3f3f3"}, "value": "#e4e4e4"}}},
                       "color": {"field": "c", "type": "nominal", "scale": {"domain": ["N","A","O","V","M","P","S","E","X","C"], "range": ["#2a66ba","#b2df8a","#33a02c","#fb9a99","#e8341c","#fdbf6f","#ff7f00","#cab2d6","#6a3d9a","#b15928"]}, "legend": null}
                     }}
                  ]
                }
              ]
            }
          ]
        }
      ]
    },
    {
      "spacing": 0,
      "vconcat": [
        {"width": 424, "height": 1, "view": {"stroke": "transparent", "fill": "transparent"}, "data": {"values": []}, "mark": "text"},
        {
          "title": {"text": "B", "anchor": "start", "frame": "bounds", "orient": "top", "fontSize": 22, "fontWeight": "bold", "baseline": "top", "offset": -11},
          "width": 424,
          "height": 397,
          "data": {"name": "boxes"},
          "encoding": {
            "x": {"field": "type", "type": "nominal", "sort": null,
                  "scale": {"domain": ["Neurons","Astrocytes","Oligo","Vascular","Microglia","OPC","NSC","Ependy Sec","Macrophage","Ependy Cilia"], "paddingInner": 0.25, "paddingOuter": 0.225},
                  "axis": {"title": null, "labelAngle": -45, "labelAlign": "right", "labelBaseline": "top", "labelFontSize": 26, "labelPadding": 2, "tickSize": 9, "tickWidth": 2, "tickColor": "#111111", "gridColor": "#ebebeb",
                           "labelColor": {"condition": [
                             {"test": "datum.value === 'Neurons'", "value": "#1f78b4"},
                             {"test": "datum.value === 'Astrocytes'", "value": "#6e7f5a"},
                             {"test": "datum.value === 'Oligo'", "value": "#1f7a3a"},
                             {"test": "datum.value === 'Vascular'", "value": "#fb9a99"},
                             {"test": "datum.value === 'Microglia'", "value": "#e31a1c"},
                             {"test": "datum.value === 'OPC'", "value": "#c2a685"},
                             {"test": "datum.value === 'NSC'", "value": "#ff7f00"},
                             {"test": "datum.value === 'Ependy Sec'", "value": "#857896"},
                             {"test": "datum.value === 'Macrophage'", "value": "#6a3d9a"}
                           ], "value": "#b15928"}}}
          },
          "layer": [
            {"mark": {"type": "rule", "color": "#333333", "strokeWidth": 1.5},
             "encoding": {
               "y": {"field": "lo", "type": "quantitative", "scale": {"domain": [-20.8, 333.4], "nice": false, "zero": false},
                     "axis": {"title": "# of compound splice events/cell", "titleFontSize": 23, "values": [0, 50, 100, 150, 200, 250, 300], "labelExpr": "datum.value % 100 === 0 ? datum.label : ''", "labelFontSize": 20, "labelColor": "#000000", "labelPadding": 2, "tickSize": 7, "tickWidth": 2, "tickColor": "#111111", "tickOpacity": {"condition": {"test": "datum.value % 100 !== 0", "value": 0}, "value": 1}, "gridColor": {"condition": {"test": "datum.value % 100 !== 0", "value": "#f4f4f4"}, "value": "#e8e8e8"}}},
               "y2": {"field": "hi"}
             }},
            {"mark": {"type": "bar", "stroke": "#333333", "strokeWidth": 1.5},
             "encoding": {
               "y": {"field": "q1", "type": "quantitative"},
               "y2": {"field": "q3"},
               "color": {"field": "type", "type": "nominal", "scale": {"domain": ["Neurons","Astrocytes","Oligo","Vascular","Microglia","OPC","NSC","Ependy Sec","Macrophage","Ependy Cilia"], "range": ["#1f78b4","#b2df8a","#33a02c","#fb9a99","#e31a1c","#fdbf6f","#f58220","#cab2d6","#6a3d9a","#f8f49b"]}, "legend": null}
             }},
            {"mark": {"type": "tick", "color": "#333333", "thickness": 3, "size": 31, "opacity": 1},
             "encoding": {"y": {"field": "med", "type": "quantitative"}}}
          ]
        }
      ]
    }
  ]
}
